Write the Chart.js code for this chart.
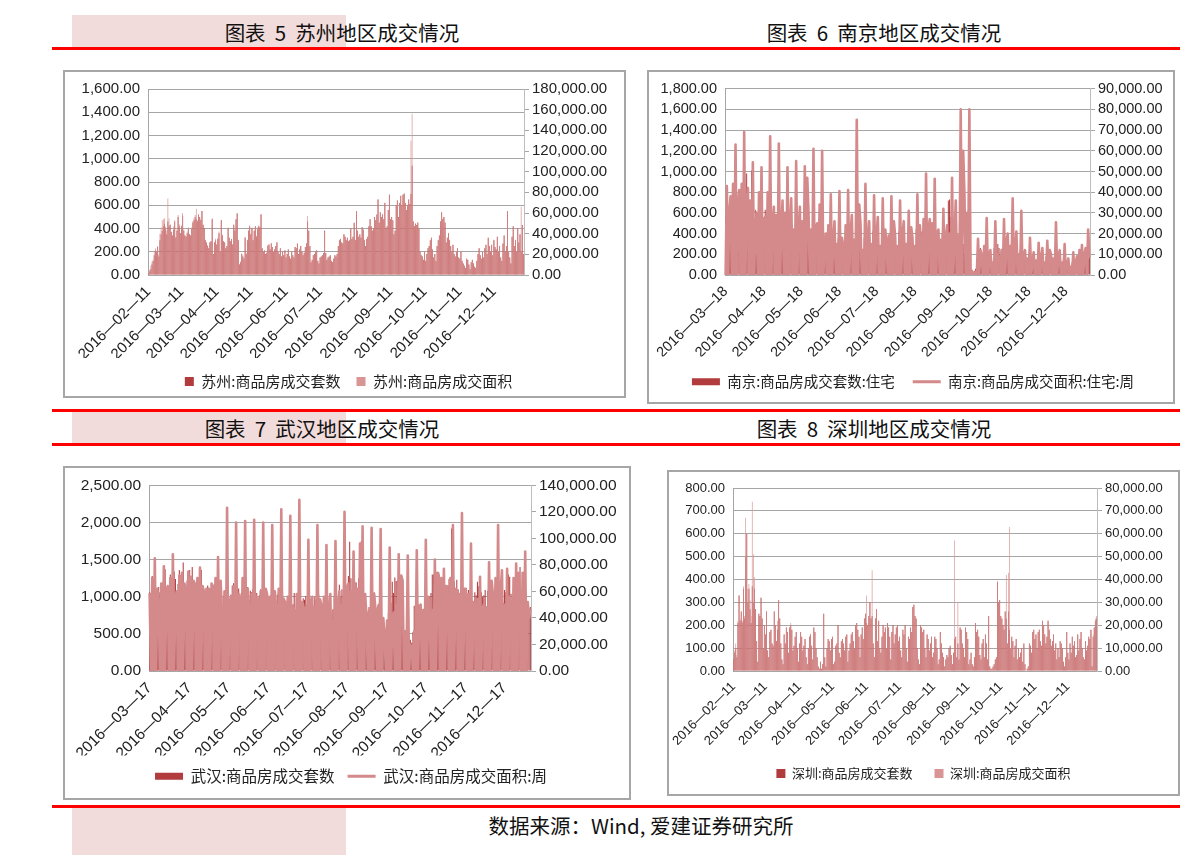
<!DOCTYPE html>
<html>
<head>
<meta charset="utf-8">
<title>苏州 南京 武汉 深圳 成交情况</title>
<script src="https://cdn.jsdelivr.net/npm/chart.js@4.4.1/dist/chart.umd.min.js"></script>
<style>
  html, body { margin: 0; padding: 0; background: #fff; }
  #page { position: relative; width: 1191px; height: 855px; overflow: hidden; font-family: "Noto Sans CJK SC", sans-serif; }
  .blk { position: absolute; }
  .pink { background: #f2dcdb; }
  .red { background: #ff0000; height: 3px; }
  .cap { position: absolute; font-size: 20.5px; color: #111; white-space: pre; transform: translate(-50%, -50%); }
  .frame { position: absolute; border: 2px solid #a6a6a6; box-sizing: border-box; }
  canvas { position: absolute; }
</style>
</head>
<body>
<div id="page">
  <div class="blk pink" style="left:72px;top:15px;width:274px;height:32px"></div>
  <div class="blk red" style="left:52px;top:47px;width:1128px"></div>
  <div class="cap" style="left:342px;top:32px">图表  5  苏州地区成交情况</div>
  <div class="cap" style="left:884px;top:32px">图表  6  南京地区成交情况</div>

  <div class="blk red" style="left:52px;top:409px;width:1128px"></div>
  <div class="blk pink" style="left:72px;top:412px;width:274px;height:31px"></div>
  <div class="blk red" style="left:52px;top:443px;width:1128px"></div>
  <div class="cap" style="left:322px;top:428px">图表  7  武汉地区成交情况</div>
  <div class="cap" style="left:874px;top:428px">图表  8  深圳地区成交情况</div>

  <div class="blk red" style="left:52px;top:805px;width:1128px"></div>
  <div class="blk pink" style="left:72px;top:808px;width:274px;height:47px"></div>
  <div class="cap" style="left:641px;top:825px">数据来源：Wind, 爱建证券研究所</div>

  <div class="frame" style="left:63px;top:70px;width:563px;height:328px"></div>
  <div class="frame" style="left:647px;top:70px;width:528px;height:334px"></div>
  <div class="frame" style="left:63px;top:466px;width:568px;height:334px"></div>
  <div class="frame" style="left:667px;top:470px;width:513px;height:326px"></div>

  <canvas id="suzhouChart"></canvas>
  <canvas id="nanjingChart"></canvas>
  <canvas id="wuhanChart"></canvas>
  <canvas id="shenzhenChart"></canvas>
</div>

<script>
// ---- data (daily) ----
const suzhouStart = '2016-02-11';
const suzhouTickDay = '11';
const suzhouLeftAxis = [0, 1600, 200];
const suzhouRightAxis = [0, 180000, 20000];
const suzhouCount = [
  10,30,50,90,120,170,210,200,240,160,300,350,380,420,440,400,350,460,420,
  430,370,340,390,460,320,380,500,420,360,420,510,380,340,330,360,400,350,340,400,450,470,500,480,460,520,500,470,550,430,400,
  300,280,250,230,280,290,480,180,280,300,260,310,360,200,470,340,290,280,230,250,400,320,290,310,260,430,380,480,530,300,
  90,110,180,160,140,320,180,300,380,420,350,400,300,380,420,330,400,420,410,520,230,200,210,180,190,250,260,220,270,240,200,
  220,250,280,200,180,230,160,200,170,210,150,180,220,160,140,200,170,150,240,230,270,180,220,250,200,170,190,240,270,460,
  380,250,110,130,170,180,200,210,120,100,150,160,170,190,380,190,130,150,160,170,120,110,140,170,160,180,250,300,310,280,270,
  350,330,300,320,290,300,400,310,330,450,300,550,380,330,350,320,410,390,300,250,310,330,420,480,420,380,400,500,470,520,650,
  450,540,500,520,480,620,400,420,560,690,480,500,470,350,380,600,640,500,620,680,600,690,700,620,560,600,650,610,700,940,
  460,420,440,430,450,400,200,170,160,130,200,120,180,230,250,300,320,220,150,180,120,250,300,340,460,540,480,500,450,280,320,
  360,300,250,200,260,180,160,200,230,150,140,200,120,100,80,60,140,130,90,50,110,130,100,70,60,120,180,230,170,140,
  200,150,230,260,180,320,250,200,260,170,300,240,220,330,200,250,150,120,270,340,200,250,550,200,150,100,330,420,250,300,200,
  400,280,350,200,430,180
];
const suzhouArea = [
  2000,5000,9000,13000,15000,22000,26000,23000,28000,20000,40000,46000,53000,54000,55000,47000,43000,74000,55000,
  49000,42000,38000,47000,53000,37000,44000,58000,49000,40000,48000,60000,44000,37000,38000,42000,46000,39000,38000,46000,52000,55000,58000,64000,53000,58000,56000,54000,62000,49000,44000,
  34000,31000,29000,26000,32000,33000,55000,20000,32000,35000,30000,36000,42000,23000,53000,39000,33000,32000,26000,28000,46000,36000,33000,35000,30000,49000,44000,54000,60000,34000,
  10000,13000,21000,19000,17000,37000,21000,34000,43000,48000,40000,46000,34000,43000,47000,38000,46000,48000,46000,59000,26000,23000,24000,20000,22000,29000,30000,25000,31000,27000,23000,
  25000,28000,32000,23000,20000,26000,18000,23000,19000,24000,17000,20000,25000,18000,16000,23000,19000,17000,27000,26000,30000,20000,25000,28000,23000,19000,22000,27000,30000,57000,
  43000,28000,12000,15000,19000,20000,23000,24000,14000,11000,17000,18000,19000,21000,42000,21000,15000,17000,18000,19000,14000,12000,16000,19000,18000,20000,28000,34000,35000,32000,31000,
  39000,37000,34000,36000,33000,34000,45000,35000,37000,50000,34000,62000,43000,37000,39000,36000,46000,44000,34000,28000,35000,37000,47000,54000,47000,43000,45000,56000,53000,58000,73000,
  51000,61000,56000,59000,54000,70000,45000,47000,63000,78000,54000,56000,53000,39000,43000,68000,72000,56000,70000,77000,68000,78000,79000,70000,63000,68000,73000,69000,130000,156000,
  52000,47000,50000,48000,51000,45000,23000,19000,18000,15000,23000,14000,20000,26000,28000,34000,36000,25000,17000,20000,14000,28000,34000,38000,52000,61000,54000,56000,51000,32000,36000,
  41000,34000,28000,23000,29000,20000,18000,23000,26000,17000,16000,23000,14000,11000,9000,7000,16000,15000,10000,6000,12000,15000,11000,8000,7000,14000,20000,26000,19000,16000,
  23000,17000,26000,29000,20000,36000,28000,23000,29000,19000,34000,27000,25000,37000,23000,28000,17000,14000,30000,38000,23000,28000,62000,23000,17000,11000,37000,47000,28000,34000,23000,
  45000,31000,39000,66000,48000,20000
];

const nanjingStart = '2016-03-18';
const nanjingTickDay = '18';
const nanjingLeftAxis = [0, 1800, 200];
const nanjingRightAxis = [0, 90000, 10000];
const nanjingCount = [
  580,640,300,570,620,420,760, 300,760,240,630,560,380,520, 620,480,280,980,540,380,500, 1010,420,300,630,610,400,450,
  620,300,480,560,630,420,380, 640,300,420,520,580,380,420, 580,280,420,500,460,420,380, 520,300,380,460,420,360,220,
  400,280,300,380,420,300,360, 380,260,300,420,380,320,280, 400,300,280,360,340,300,360, 360,280,300,320,380,300,280,
  420,260,300,280,340,300,240, 360,240,260,300,320,280,220, 380,260,240,320,300,260,240, 400,200,280,300,280,240,200,
  360,240,220,320,300,260,200, 420,220,260,300,280,220,200, 380,200,240,280,260,220,180, 400,220,260,300,280,240,200,
  420,300,240,320,360,280,240, 380,260,220,300,340,260,200, 440,300,280,360,420,300,260, 480,320,300,440,420,360,280,
  460,340,300,400,380,320,160, 400,300,280,360,380,720,730, 560,380,340,420,400,360,300, 500,420,380,300,260,240,200,
  420,60,40,30,30,40,60, 80,220,160,260,220,180,140, 200,160,180,240,220,160,120, 260,180,200,300,260,200,140,
  240,200,180,280,300,200,160, 320,220,200,260,240,180,140, 240,180,160,220,200,140,100, 200,140,120,180,160,120,80,
  160,120,100,160,140,100,80, 180,120,120,160,200,140,100, 220,160,140,200,180,120,80, 160,100,80,140,120,100,60,
  120,80,60,120,140,160,180, 200,160,140,220,240,200,160,
  200
];
const nanjingArea = [
  0,43000,0,30000,38000,0,44000, 0,63000,0,34000,41000,0,44000, 0,69000,0,35000,42000,0,36000, 0,54500,0,21000,30000,0,40000,
  0,52000,0,22000,28000,0,40000, 0,67000,0,23000,33000,0,29000, 0,63500,0,22000,36000,0,30000, 0,52000,0,24000,37000,0,22000,
  0,55000,0,20000,33000,0,26000, 0,52500,0,47000,30000,0,22000, 0,61000,0,23000,25000,0,34000, 0,60000,0,14000,20000,0,24000,
  0,39000,0,16000,26000,0,15000, 0,40500,0,18000,14000,0,24000, 0,41000,0,20000,29000,0,17000, 0,75000,0,34000,25000,0,12000,
  0,44000,0,17000,26000,0,15000, 0,38500,0,19000,28000,0,14000, 0,37000,0,22000,17000,0,19000, 0,38000,0,26000,19000,0,14000,
  0,36000,0,20000,26000,0,15000, 0,31000,0,23000,18000,0,14000, 0,39000,0,24000,14000,0,27000, 0,49000,0,22000,27000,0,25000,
  0,46500,0,20000,22000,0,17000, 0,32000,0,18000,24000,0,20000, 0,47000,0,17000,36000,0,19000, 0,80000,0,60000,40000,0,30000,
  0,80000,0,2000,1000,0,1500, 0,17500,0,12000,9000,0,14000, 0,27500,0,8000,12000,0,6000, 0,26000,0,10000,8000,0,12000,
  0,27000,0,16000,20000,0,14000, 0,37000,0,12000,21000,0,10000, 0,31000,0,9000,12000,0,8000, 0,18000,0,6000,11000,0,7000,
  0,15500,0,8000,13000,0,6000, 0,16500,0,12000,10000,0,8000, 0,25500,0,9000,12000,0,6000, 0,15000,0,5000,8000,0,4000,
  0,11000,0,6000,9000,0,12000, 0,14500,0,10000,13000,0,22000,
  9000
];

const wuhanStart = '2016-03-17';
const wuhanTickDay = '17';
const wuhanLeftAxis = [0, 2500, 500];
const wuhanRightAxis = [0, 140000, 20000];
const wuhanCount = [
  1060,960,1280,850,1010,1100,870, 1130,1060,980,910,1210,1370,1020, 1120,1060,1300,960,1140,1340,1240, 1020,1170,1360,1190,1140,1460,1010,
  1050,1220,1180,1360,1130,1400,1090, 1070,1100,1260,980,1240,1360,1130, 1100,760,1030,1150,900,990,820, 1020,1070,1170,1000,980,1180,1200,
  780,1010,1070,1060,1200,1000,890, 1030,1150,1180,870,1100,1000,1110, 980,1050,1200,1010,960,870,1130, 960,1080,1060,1100,1020,980,1050,
  980,1020,1100,1030,950,1060,1010, 970,1000,870,1020,1080,950,1040, 860,1030,1070,980,900,1070,990, 940,880,990,1000,940,860,900,
  1050,830,940,1000,930,880,840, 980,960,1010,900,940,1010,860, 940,870,1000,960,830,1030,920, 880,800,970,880,730,990,680,
  840,720,830,1010,780,960,990, 1160,1000,1100,1000,1000,1090,1160, 1280,1740,1250,1000,1560,1200,1190, 1100,1250,1640,1750,1240,1000,820,
  700,790,860,830,940,1000,1060, 870,820,900,930,780,720,610, 500,560,690,780,880,920,1200, 1050,1260,1210,1220,1140,1040,980,
  1240,360,420,380,350,300,420, 380,520,880,860,960,900,880, 780,780,820,990,980,1000,870, 1000,1050,1300,1300,1280,1230,1040,
  1330,1240,1180,1000,990,1090,1050, 1150,1240,1220,1920,1600,1200,1060, 1230,1100,1050,870,1060,920,900, 960,840,1090,880,820,900,880,
  1060,1020,1200,1140,1270,1060,1000, 1020,1090,780,1080,1360,1060,1040, 1010,980,960,860,1080,900,940, 1000,920,1090,1060,1100,1300,1270,
  1040,950,1020,860,970,1050,1270, 1400,980,960,940,680,850,770,
  840,860
];
const wuhanArea = [
  58000,0,70000,0,85000,0,62000, 48000,0,66000,0,79000,0,60000, 64000,0,70000,0,88000,0,56000, 60000,0,72000,0,74000,0,66000,
  62000,0,75000,0,71000,0,68000, 66000,0,70000,0,78000,0,64000, 60000,0,62000,0,62000,0,66000, 64000,0,70000,0,86000,0,68000,
  43000,0,60000,0,123000,0,52000, 56000,0,64000,0,112000,0,58000, 56000,0,70000,0,113000,0,62000, 48000,0,58000,0,114000,0,56000,
  54000,0,60000,0,112000,0,62000, 58000,0,56000,0,110000,0,60000, 48000,0,62000,0,122000,0,54000, 52000,0,56000,0,117000,0,48000,
  46000,0,58000,0,129000,0,52000, 50000,0,48000,0,99000,0,52000, 56000,0,48000,0,110000,0,54000, 50000,0,56000,0,95000,0,46000,
  58000,0,38000,0,98000,0,46000, 60000,0,50000,0,120000,0,62000, 66000,0,60000,0,90000,0,62000, 62000,0,96000,0,109000,0,58000,
  40000,0,46000,0,108000,0,58000, 46000,0,48000,0,107000,0,40000, 28000,0,38000,0,93000,0,36000, 44000,0,50000,0,88000,0,72000,
  68000,0,30000,0,87000,0,20000, 18000,0,30000,0,91000,0,48000, 50000,0,46000,0,99000,0,56000, 44000,0,46000,0,84000,0,74000,
  72000,0,70000,0,77000,0,64000, 58000,0,70000,0,110000,0,62000, 60000,0,58000,0,119000,0,62000, 62000,0,58000,0,96000,0,52000,
  50000,0,54000,0,71000,0,48000, 50000,0,48000,0,82000,0,68000, 58000,0,70000,0,110000,0,60000, 76000,0,50000,0,77000,0,56000,
  52000,0,70000,0,81000,0,74000, 54000,0,74000,0,90000,0,52000,
  40000,46000
];

const shenzhenStart = '2016-02-11';
const shenzhenTickDay = '11';
const shenzhenLeftAxis = [0, 800, 100];
const shenzhenRightAxis = [0, 80000, 10000];
const shenzhenCount = [
  50,80,100,60,210,330,220,260,210,360,230,500,600,300,360,270,210,370,300,
  360,270,130,40,250,240,320,230,100,200,160,260,90,60,170,180,120,110,260,200,130,180,310,230,120,50,30,160,120,190,170,
  80,190,200,180,90,110,150,170,100,40,120,170,150,90,110,140,60,30,100,150,160,110,50,190,170,100,60,20,10,40,
  10,30,250,60,20,100,140,130,90,140,150,30,40,110,120,200,80,60,130,140,120,90,150,160,40,90,120,160,170,130,100,
  200,210,180,150,60,160,190,140,230,250,210,200,240,300,230,240,120,60,230,270,130,220,100,80,150,200,170,190,100,210,
  190,150,50,170,200,120,160,190,200,130,150,90,60,180,160,200,100,40,150,140,190,170,280,290,240,230,100,50,30,200,190,
  170,180,100,60,160,140,90,120,150,60,80,150,140,100,30,50,170,120,80,60,20,50,70,60,100,110,70,30,80,140,150,
  60,120,50,190,180,120,100,60,190,170,140,30,50,80,30,20,60,210,170,180,150,70,50,120,140,60,160,120,50,240,
  20,10,10,20,30,50,60,390,300,310,240,230,200,180,260,230,120,260,180,100,150,130,60,110,140,50,100,60,80,100,40,
  120,30,0,10,20,120,110,80,170,180,140,160,100,170,180,130,110,220,200,160,120,150,220,180,140,110,130,160,90,120,
  50,100,60,130,120,100,40,20,60,170,80,50,120,80,150,110,130,60,70,160,90,140,170,100,60,50,130,90,110,150,140,
  180,20,150,190,220,230
];
const shenzhenArea = [
  5000,9000,12000,7000,22000,33000,23000,26000,22000,37000,24000,67000,60000,36000,38000,31000,24000,74000,51000,
  41000,27000,13000,4000,25000,24000,32000,23000,10000,20000,16000,26000,9000,6000,17000,18000,12000,11000,26000,20000,13000,22000,31000,23000,12000,5000,3000,16000,12000,19000,17000,
  8000,19000,21000,18000,9000,11000,15000,17000,10000,4000,12000,17000,15000,9000,11000,14000,6000,3000,10000,15000,16000,11000,5000,19000,17000,10000,6000,2000,1000,4000,
  1000,3000,25000,6000,2000,10000,14000,13000,9000,14000,15000,3000,4000,11000,12000,20000,8000,6000,13000,14000,12000,9000,15000,16000,4000,9000,12000,16000,17000,13000,10000,
  20000,21000,18000,15000,6000,16000,19000,14000,23000,25000,33000,20000,24000,30000,23000,44000,12000,6000,23000,27000,13000,22000,10000,8000,15000,20000,17000,19000,10000,21000,
  19000,15000,5000,17000,20000,12000,16000,19000,20000,13000,15000,9000,6000,18000,16000,20000,10000,4000,15000,14000,19000,17000,28000,29000,24000,23000,10000,5000,3000,20000,19000,
  17000,18000,10000,6000,16000,14000,9000,12000,15000,6000,8000,15000,14000,10000,3000,5000,17000,12000,8000,6000,2000,5000,7000,6000,10000,11000,7000,3000,8000,57000,15000,
  6000,30000,5000,19000,18000,12000,10000,6000,19000,17000,14000,3000,5000,8000,3000,2000,6000,21000,17000,18000,15000,7000,5000,12000,14000,6000,16000,12000,5000,24000,
  2000,1000,1000,2000,3000,5000,6000,39000,30000,31000,24000,23000,20000,18000,26000,42000,12000,43000,63000,10000,15000,13000,6000,11000,14000,5000,10000,6000,8000,10000,4000,
  12000,3000,0,1000,2000,12000,11000,8000,17000,18000,14000,16000,10000,17000,18000,13000,11000,22000,20000,16000,12000,15000,22000,18000,14000,11000,13000,16000,9000,12000,
  5000,10000,6000,13000,12000,10000,4000,2000,6000,17000,8000,5000,12000,8000,15000,11000,13000,6000,7000,16000,9000,14000,17000,10000,6000,5000,13000,9000,11000,15000,14000,
  18000,2000,16000,19000,23000,24000
];

// ---- styles ----
const DARK = '#b13b3d';
const PINK = '#d99594';
const LINE_PINK = '#d4898a';
const GRID = '#a6a6a6';
const TICK_FONT = '"Liberation Sans", Arial, sans-serif';
const CJK_FONT = '"Noto Sans CJK SC", sans-serif';

function dayLabels(start, n) {
  const out = [];
  const d = new Date(start + 'T00:00:00Z');
  for (let i = 0; i < n; i++) {
    out.push(d.toISOString().slice(0, 10));
    d.setUTCDate(d.getUTCDate() + 1);
  }
  return out;
}

function fmt(v) {
  return Number(v).toLocaleString('en-US', { minimumFractionDigits: 2, maximumFractionDigits: 2 });
}

// place the canvas so the plot area and legend land where the reference has them
function place(canvas, g) {
  const w = g.box[2] - g.box[0] - 4;
  const left = Math.round(g.legend[0] - w / 2);
  const top = g.box[1] + 2;
  const h = Math.round(g.legend[1] - top + g.fs / 2 + 10);
  canvas.style.left = left + 'px';
  canvas.style.top = top + 'px';
  canvas.width = w;
  canvas.height = h;
  return {
    padTop: g.plot[1] - top,
    wl: g.plot[0] - left,
    wr: left + w - g.plot[2],
    xh: (h - (g.fs + g.pad + 10)) - (g.plot[3] - top)
  };
}

function lineLegend(chart) {
  const items = Chart.defaults.plugins.legend.labels.generateLabels(chart);
  items.forEach(function (it) {
    const ds = chart.data.datasets[it.datasetIndex];
    if (ds.type === 'line') {
      it.pointStyle = 'line';
      it.strokeStyle = ds.borderColor;
      it.fillStyle = ds.borderColor;
      it.lineWidth = 3;
    } else {
      it.pointStyle = 'rect';
      it.fillStyle = ds.backgroundColor;
      it.strokeStyle = ds.backgroundColor;
      it.lineWidth = 0;
    }
  });
  return items;
}

function drawCity(id, c) {
  const canvas = document.getElementById(id);
  const geo = place(canvas, c.geom);
  const n = Math.max(c.count.length, c.area.length);
  const labels = dayLabels(c.start, n);
  const fs = c.geom.fs;

  const countSet = {
    type: 'bar', label: c.countName, data: c.count, yAxisID: 'y',
    backgroundColor: DARK, borderColor: DARK, borderWidth: 0,
    barPercentage: 0.8, categoryPercentage: 1, grouped: false, order: 2
  };
  let areaSet;
  if (c.areaAsLine) {
    areaSet = {
      type: 'line', label: c.areaName, data: c.area, yAxisID: 'y1',
      borderColor: LINE_PINK, backgroundColor: LINE_PINK, borderWidth: 2.6,
      pointRadius: 0, pointHitRadius: 0, tension: 0, fill: false,
      borderJoinStyle: 'round', borderCapStyle: 'round', order: 1
    };
  } else {
    areaSet = {
      type: 'bar', label: c.areaName, data: c.area, yAxisID: 'y1',
      backgroundColor: PINK, borderColor: PINK, borderWidth: 0,
      barPercentage: 0.62, categoryPercentage: 1, grouped: false, order: 1
    };
  }

  const legendLabels = c.areaAsLine ? {
    usePointStyle: true, pointStyleWidth: 28, boxHeight: 7,
    generateLabels: lineLegend
  } : { boxWidth: 9, boxHeight: 9 };
  legendLabels.padding = c.geom.pad;
  legendLabels.color = '#222';
  legendLabels.font = { family: CJK_FONT, size: fs };
  legendLabels.sort = function (a, b) { return a.datasetIndex - b.datasetIndex; };

  return new Chart(canvas, {
    type: 'bar',
    data: { labels: labels, datasets: [countSet, areaSet] },
    options: {
      responsive: false,
      animation: false,
      devicePixelRatio: 1,
      layout: { padding: { top: geo.padTop, left: 0, right: 0, bottom: 0 } },
      plugins: {
        tooltip: { enabled: false },
        legend: { position: 'bottom', labels: legendLabels }
      },
      scales: {
        x: {
          type: 'category',
          grid: { display: false },
          border: { display: false },
          ticks: {
            autoSkip: false, minRotation: 45, maxRotation: 45, padding: 0,
            color: '#222', font: { family: TICK_FONT, size: fs },
            callback: function (v) {
              const lb = this.getLabelForValue(v);
              return lb.slice(8) === c.tickDay ? lb.replace(/-/g, '\u2014') : null;
            }
          },
          afterFit: function (s) { s.height = geo.xh; s.paddingLeft = 0; s.paddingRight = 0; }
        },
        y: {
          position: 'left', min: c.left[0], max: c.left[1],
          ticks: { stepSize: c.left[2], autoSkip: false, color: '#222', font: { family: TICK_FONT, size: fs }, padding: 8, callback: fmt },
          grid: { color: GRID, drawTicks: false, lineWidth: 1 },
          border: { display: true, color: GRID },
          afterFit: function (s) { s.width = geo.wl; }
        },
        y1: {
          position: 'right', min: c.right[0], max: c.right[1],
          ticks: { stepSize: c.right[2], autoSkip: false, color: '#222', font: { family: TICK_FONT, size: fs }, padding: 3, callback: fmt },
          grid: { drawOnChartArea: false, drawTicks: true, tickLength: 5, color: GRID },
          border: { display: true, color: '#bdbdbd' },
          afterFit: function (s) { s.width = geo.wr; }
        }
      }
    }
  });
}

drawCity('suzhouChart', {
  start: suzhouStart, tickDay: suzhouTickDay, count: suzhouCount, area: suzhouArea,
  left: suzhouLeftAxis, right: suzhouRightAxis, areaAsLine: false,
  countName: '苏州:商品房成交套数', areaName: '苏州:商品房成交面积',
  geom: { box: [63, 70, 626, 398], plot: [148, 87, 524, 275], legend: [348, 381], fs: 15, pad: 16 }
});

drawCity('nanjingChart', {
  start: nanjingStart, tickDay: nanjingTickDay, count: nanjingCount, area: nanjingArea,
  left: nanjingLeftAxis, right: nanjingRightAxis, areaAsLine: true,
  countName: '南京:商品房成交套数:住宅', areaName: '南京:商品房成交面积:住宅:周',
  geom: { box: [647, 70, 1175, 404], plot: [725, 87, 1090, 275], legend: [913, 382], fs: 14.5, pad: 18 }
});

drawCity('wuhanChart', {
  start: wuhanStart, tickDay: wuhanTickDay, count: wuhanCount, area: wuhanArea,
  left: wuhanLeftAxis, right: wuhanRightAxis, areaAsLine: true,
  countName: '武汉:商品房成交套数', areaName: '武汉:商品房成交面积:周',
  geom: { box: [63, 466, 631, 800], plot: [149, 484, 531, 671], legend: [351, 776], fs: 15.5, pad: 13 }
});

drawCity('shenzhenChart', {
  start: shenzhenStart, tickDay: shenzhenTickDay, count: shenzhenCount, area: shenzhenArea,
  left: shenzhenLeftAxis, right: shenzhenRightAxis, areaAsLine: false,
  countName: '深圳:商品房成交套数', areaName: '深圳:商品房成交面积',
  geom: { box: [667, 470, 1180, 796], plot: [733, 488, 1097, 671], legend: [923, 773], fs: 13, pad: 22 }
});
</script>
</body>
</html>
